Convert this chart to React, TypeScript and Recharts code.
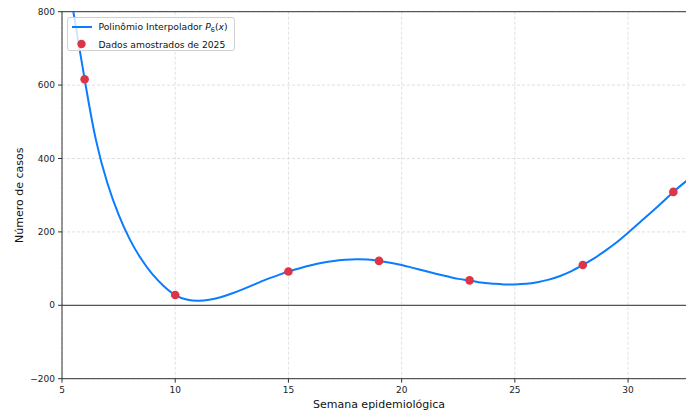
import React from "react";
import {
  ComposedChart,
  Line,
  Scatter,
  XAxis,
  YAxis,
  CartesianGrid,
  ReferenceLine,
  Legend,
} from "recharts";

// Sampled epidemiological weeks and reported cases (2025)
const sampleWeeks = [6, 10, 15, 19, 23, 28, 32];
const sampleCases = [616, 28, 92, 121, 68, 110, 309];

// Interpolating polynomial P6(x), tabulated along the week axis
const curveWeeks = [
  5.4, 5.5, 6, 6.5, 7, 7.5, 8, 8.5, 9, 9.5, 10, 10.5, 11, 11.5, 12, 12.5, 13,
  13.5, 14, 14.5, 15, 15.5, 16, 16.5, 17, 17.5, 18, 18.5, 19, 19.5, 20, 20.5,
  21, 21.5, 22, 22.5, 23, 23.5, 24, 24.5, 25, 25.5, 26, 26.5, 27, 27.5, 28,
  28.5, 29, 29.5, 30, 30.5, 31, 31.5, 32, 32.5, 33,
];
const curveCases = [
  838, 800, 616, 450, 334, 247, 179, 126, 84, 52, 28, 16, 12.5, 15, 22, 32, 44,
  57, 70, 81, 92, 101, 109, 116, 121, 124, 125.5, 124.5, 121, 116, 110, 102,
  94, 86, 79, 72, 68, 62, 59, 57, 57, 58.5, 63, 70, 80, 93, 110, 128, 149, 172,
  198, 225, 252, 280, 309, 335, 360,
];

const xTicks = [5, 10, 15, 20, 25, 30];
const yTicks = [-200, 0, 200, 400, 600, 800];

const xLabel = "Semana epidemiológica";
const yLabel = "Número de casos";
const curveName = "Polinômio Interpolador";
const sampleName = "Dados amostrados de 2025";

const curveData = curveWeeks.map((x, i) => ({ x, y: curveCases[i] }));
const sampleData = sampleWeeks.map((x, i) => ({ x, y: sampleCases[i] }));

const BLUE = "#0a7cff";
const RED = "#dc3545";
const FONT = "'DejaVu Sans', sans-serif";
const SPINE = "#333";

const fmtY = (v: number) => (v < 0 ? "\u2212" + Math.abs(v) : String(v));

const YTitle = (props: any) => {
  const vb = props.viewBox || {};
  const cx = 20;
  const cy = vb.y + vb.height / 2;
  return (
    <text
      x={cx}
      y={cy}
      transform={`rotate(-90, ${cx}, ${cy})`}
      textAnchor="middle"
      dominantBaseline="central"
      fontFamily={FONT}
      fontSize={11}
      fill="#111"
    >
      {yLabel}
    </text>
  );
};

const XTitle = (props: any) => {
  const vb = props.viewBox || {};
  return (
    <text
      x={vb.x + vb.width / 2}
      y={vb.y + 25.5}
      textAnchor="middle"
      dominantBaseline="central"
      fontFamily={FONT}
      fontSize={11}
      fill="#111"
    >
      {xLabel}
    </text>
  );
};

const LegendBox = () => (
  <div
    style={{
      width: 166,
      height: 32,
      border: "1px solid #d0d0d0",
      borderRadius: 3,
      background: "rgba(255,255,255,0.8)",
      fontFamily: FONT,
      fontSize: 9.2,
      color: "#111",
      position: "relative",
    }}
  >
    <div style={{ position: "absolute", left: 4, top: 2, height: 14, display: "flex", alignItems: "center" }}>
      <svg width={20} height={6} style={{ display: "block" }}>
        <line x1={0} y1={3} x2={20} y2={3} stroke={BLUE} strokeWidth={2} />
      </svg>
      <span style={{ marginLeft: 6.5, whiteSpace: "nowrap" }}>
        {curveName}{" "}
        <i>P</i>
        <sub style={{ fontSize: 6.5, verticalAlign: "-1.5px" }}>6</sub>(<i>x</i>)
      </span>
    </div>
    <div style={{ position: "absolute", left: 4, top: 19, height: 14, display: "flex", alignItems: "center" }}>
      <svg width={20} height={10} style={{ display: "block" }}>
        <circle cx={9.5} cy={5} r={4.2} fill={RED} />
      </svg>
      <span style={{ marginLeft: 6.5, whiteSpace: "nowrap" }}>{sampleName}</span>
    </div>
  </div>
);

export default function App() {
  return (
    <div
      style={{
        position: "absolute",
        left: 0,
        top: 0,
        width: 686,
        height: 412,
        overflow: "hidden",
        background: "#fff",
      }}
    >
      <ComposedChart
        width={700}
        height={412}
        margin={{ top: 11.7, right: 4, left: 0, bottom: 0 }}
      >
        <CartesianGrid stroke="#d8d8d8" strokeDasharray="3 2" strokeWidth={0.8} />
        <XAxis
          type="number"
          dataKey="x"
          domain={[5, 33]}
          ticks={xTicks}
          allowDataOverflow
          height={33.3}
          tickSize={4}
          tickMargin={3.5}
          axisLine={{ stroke: SPINE, strokeWidth: 1 }}
          tickLine={{ stroke: SPINE }}
          tick={{ fontFamily: FONT, fontSize: 9, fill: "#222" }}
          label={<XTitle />}
        />
        <YAxis
          type="number"
          domain={[-200, 800]}
          ticks={yTicks}
          allowDataOverflow
          width={62}
          tickSize={4}
          tickMargin={3}
          tickFormatter={fmtY}
          axisLine={{ stroke: SPINE, strokeWidth: 1 }}
          tickLine={{ stroke: SPINE }}
          tick={{ fontFamily: FONT, fontSize: 9, fill: "#222" }}
          label={<YTitle />}
        />
        <ReferenceLine y={800} stroke={SPINE} strokeWidth={1} />
        <ReferenceLine y={0} stroke="#555" strokeWidth={1.2} />
        <Line
          data={curveData}
          dataKey="y"
          type="natural"
          stroke={BLUE}
          strokeWidth={2}
          dot={false}
          activeDot={false}
          isAnimationActive={false}
        />
        <Scatter
          data={sampleData}
          dataKey="y"
          fill={RED}
          isAnimationActive={false}
          shape={(p: any) => <circle cx={p.cx} cy={p.cy} r={4.3} fill={RED} />}
        />
        <Legend
          layout="horizontal"
          align="center"
          verticalAlign="middle"
          content={<LegendBox />}
          wrapperStyle={{ left: 67, top: 17, width: "auto", height: "auto" }}
        />
      </ComposedChart>
    </div>
  );
}
